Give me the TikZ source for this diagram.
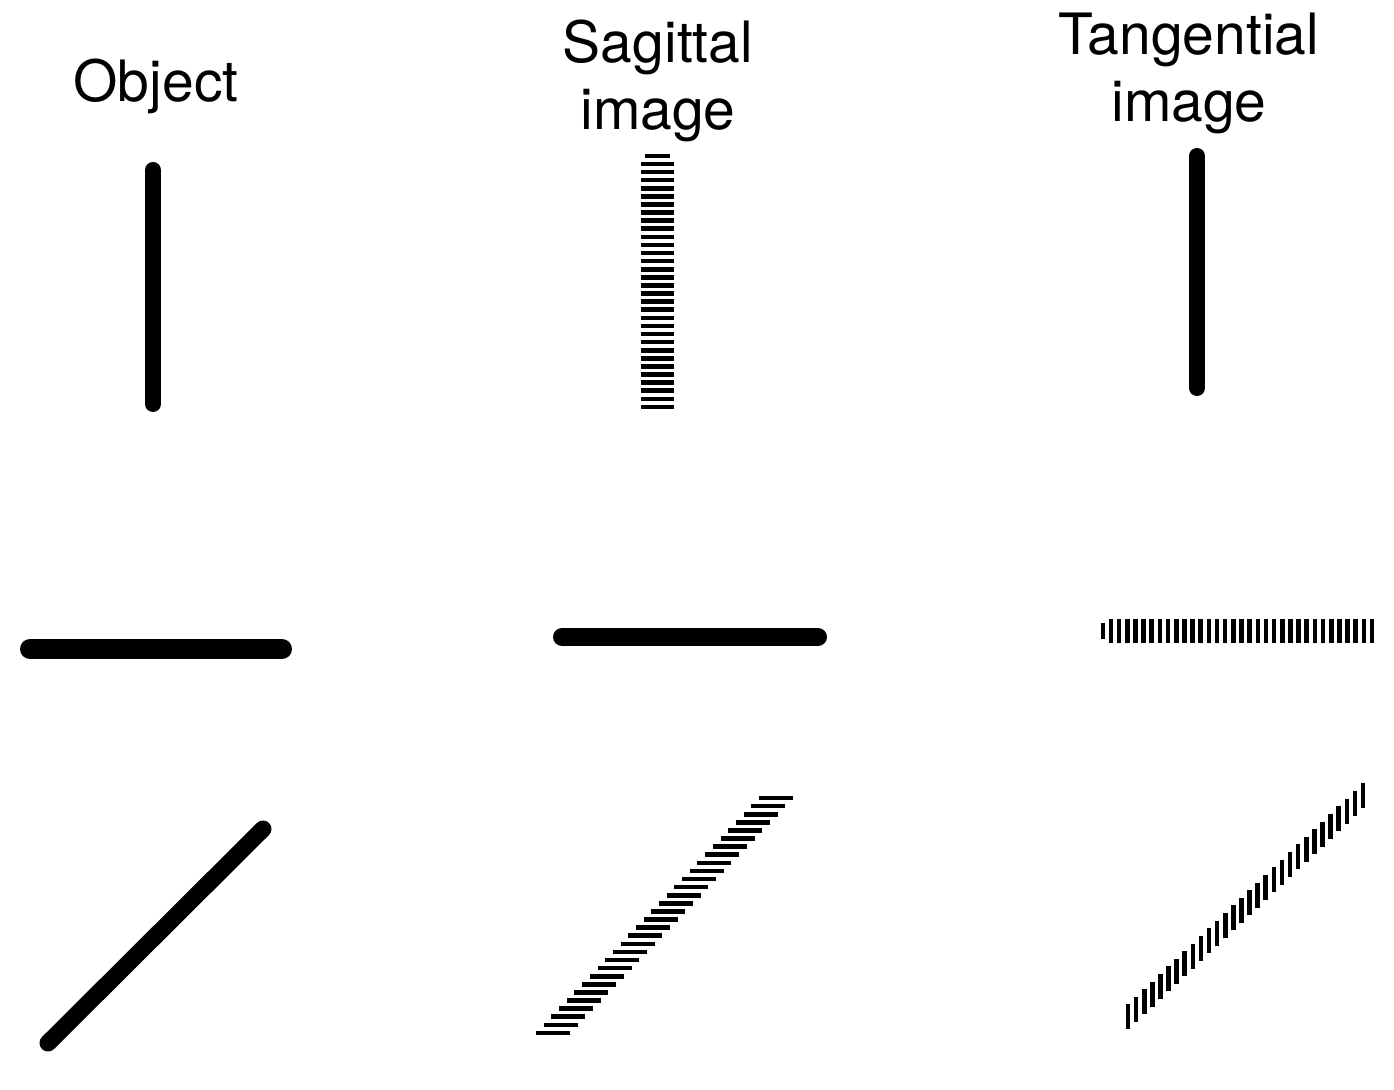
\documentclass[tikz,border=0pt]{standalone}
\usepackage{fontspec}
\setmainfont{TeX Gyre Heros}
\usetikzlibrary{calc}

\begin{document}
\begin{tikzpicture}[
  x=0.5pt,y=-0.5pt,
  title/.style={font=\fontsize{28.5}{33.5}\selectfont,align=center,inner sep=0pt},
  bar/.style={draw=black,line width=#1,line cap=round},
  bar/.default=8pt,
  hatch/.style={draw=black,line width=2.3pt}
]
\useasboundingbox (0,0) rectangle (1394,1090);
% Titles
\node[title] (obj) at (156,86) {Object};
\node[title] (sag) at (658,81) {Sagittal\\image};
\node[title] (tan) at (1189,73) {Tangential\\image};

% Object column
\coordinate (oVa) at (153,170);  \coordinate (oVb) at (153,404);
\coordinate (oHa) at (30,649);   \coordinate (oHb) at (282,649);
\coordinate (oDa) at (48,1043);  \coordinate (oDb) at (263,829);
\draw[bar] (oVa) -- (oVb);
\draw[bar=10pt] (oHa) -- (oHb);
\draw[bar=8.5pt] (oDa) -- (oDb);

% Sagittal column
\coordinate (sVa) at (657.5,164); \coordinate (sVb) at (657.5,407);
\coordinate (sHa) at (562,637);   \coordinate (sHb) at (818,637);
\coordinate (sDa) at (553,1033);  \coordinate (sDb) at (776,798);
\draw[hatch] (645,156) -- (670,156);
\foreach \i in {0,...,30} {
  \draw[hatch] ($(sVa)!\i/30!(sVb)$) +(-16.5,0) -- +(16.5,0);
}
\draw[bar=9pt] (sHa) -- (sHb);
\foreach \i in {0,...,29} {
  \draw[hatch] ($(sDa)!\i/29!(sDb)$) +(-17,0) -- +(17,0);
}

% Tangential column
\coordinate (tVa) at (1197,156); \coordinate (tVb) at (1197,388);
\coordinate (tHa) at (1111,631); \coordinate (tHb) at (1372,631);
\coordinate (tDa) at (1128,1017); \coordinate (tDb) at (1363,796);
\draw[bar] (tVa) -- (tVb);
\draw[hatch] (1103,623) -- (1103,639);
\foreach \i in {0,...,32} {
  \draw[hatch] ($(tHa)!\i/32!(tHb)$) +(0,-12) -- +(0,12);
}
\foreach \i in {0,...,29} {
  \draw[hatch] ($(tDa)!\i/29!(tDb)$) +(0,-12.5) -- +(0,12.5);
}
\end{tikzpicture}
\end{document}
